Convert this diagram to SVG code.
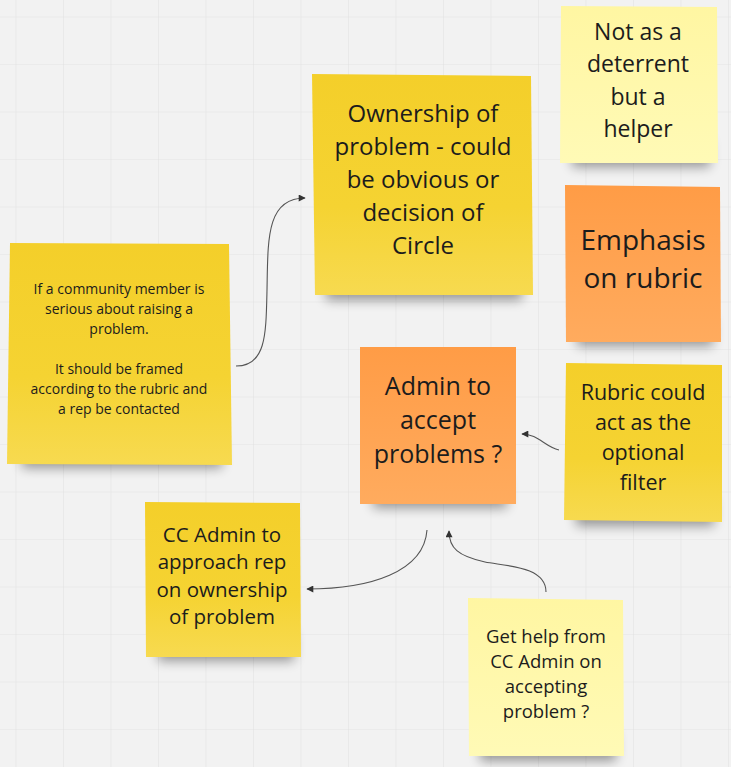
<svg xmlns="http://www.w3.org/2000/svg" width="731" height="767" viewBox="0 0 731 767">
<defs>
<pattern id="grid" x="15.5" y="16.5" width="47.5" height="47.5" patternUnits="userSpaceOnUse">
<path d="M0,0 H47.5 M0,0 V47.5" fill="none" stroke="#e3e3e3" stroke-width="1.2"/>
</pattern>
<linearGradient id="gy" x1="0" y1="0" x2="0" y2="1">
<stop offset="0" stop-color="#f4cf2a"/><stop offset="0.6" stop-color="#f5d332"/><stop offset="1" stop-color="#f7da50"/>
</linearGradient>
<linearGradient id="go" x1="0" y1="0" x2="0" y2="1">
<stop offset="0" stop-color="#ff9c46"/><stop offset="1" stop-color="#ffab5e"/>
</linearGradient>
<linearGradient id="gl" x1="0" y1="0" x2="0" y2="1">
<stop offset="0" stop-color="#fff6a2"/><stop offset="1" stop-color="#fffab6"/>
</linearGradient>
<filter id="blur" x="-20%" y="-50%" width="140%" height="200%">
<feGaussianBlur stdDeviation="6"/>
</filter>
<marker id="arr" viewBox="0 0 10 10" refX="9" refY="5" markerWidth="8" markerHeight="7" markerUnits="userSpaceOnUse" orient="auto">
<path d="M0,0 L10,5 L0,10 z" fill="#333"/>
</marker>
</defs>
<style>
.t{font-family:"Open Sans","DejaVu Sans",sans-serif;fill:#1c1c1c;text-anchor:middle}
.sh{fill:#000;opacity:0.38;filter:url(#blur)}
.y{fill:url(#gy)}
.o{fill:url(#go)}
.l{fill:url(#gl)}
.c{fill:none;stroke:#555;stroke-width:1.1;marker-end:url(#arr)}
</style>
<rect width="731" height="767" fill="#f2f2f2"/>
<rect width="731" height="767" fill="url(#grid)"/>

<g id="connectors">
<path class="c" d="M236,366 C266,366 266,335 267,290 C268,240 266,198 305,198"/>
<path class="c" d="M559,450 C545,447 538,434 522,434"/>
<path class="c" d="M427,530 C424,572 370,589 307,589"/>
<path class="c" d="M546,592 C546,566 505,566 485,562 C458,556 449,548 449,531"/>
</g>

<g id="n-community">
<rect class="sh" x="22" y="440" width="200" height="28"/>
<polygon class="y" points="10,243 229,244 232,465 7,464"/>
<text class="t" font-size="14"><tspan x="119" y="294">If a community member is</tspan><tspan x="119" y="314">serious about raising a</tspan><tspan x="119" y="334">problem.</tspan><tspan x="119" y="374">It should be framed</tspan><tspan x="119" y="394">according to the rubric and</tspan><tspan x="119" y="414">a rep be contacted</tspan></text>
</g>

<g id="n-ownership">
<rect class="sh" x="326" y="270" width="196" height="30"/>
<polygon class="y" points="312,74 531,76 533,295 315,295"/>
<text class="t" font-size="24"><tspan x="423" y="122">Ownership of</tspan><tspan x="423" y="155">problem - could</tspan><tspan x="423" y="188">be obvious or</tspan><tspan x="423" y="221">decision of</tspan><tspan x="423" y="254">Circle</tspan></text>
</g>

<g id="n-deterrent">
<rect class="sh" x="572" y="140" width="138" height="27"/>
<polygon class="l" points="561,6 717,7 718,163 560,163"/>
<text class="t" font-size="23"><tspan x="638" y="40">Not as a</tspan><tspan x="638" y="72">deterrent</tspan><tspan x="638" y="105">but a</tspan><tspan x="638" y="137">helper</tspan></text>
</g>

<g id="n-emphasis">
<rect class="sh" x="577" y="318" width="136" height="28"/>
<polygon class="o" points="565,185 720,187 721,342 566,342"/>
<text class="t" font-size="28"><tspan x="643" y="250">Emphasis</tspan><tspan x="643" y="288">on rubric</tspan></text>
</g>

<g id="n-admin">
<rect class="sh" x="373" y="478" width="134" height="30"/>
<rect class="o" x="360" y="347" width="156" height="157"/>
<text class="t" font-size="25"><tspan x="438" y="395">Admin to</tspan><tspan x="438" y="429">accept</tspan><tspan x="438" y="463">problems ?</tspan></text>
</g>

<g id="n-rubric">
<rect class="sh" x="576" y="497" width="138" height="29"/>
<polygon class="y" points="566,363 722,365 722,522 564,520"/>
<text class="t" font-size="21.5"><tspan x="643" y="400">Rubric could</tspan><tspan x="643" y="430">act as the</tspan><tspan x="643" y="460">optional</tspan><tspan x="643" y="490">filter</tspan></text>
</g>

<g id="n-ccadmin">
<rect class="sh" x="158" y="632" width="136" height="29"/>
<polygon class="y" points="145,502 300,503 301,657 146,657"/>
<text class="t" font-size="20.5"><tspan x="222" y="542">CC Admin to</tspan><tspan x="222" y="569">approach rep</tspan><tspan x="222" y="597">on ownership</tspan><tspan x="222" y="624">of problem</tspan></text>
</g>

<g id="n-gethelp">
<rect class="sh" x="480" y="732" width="136" height="29"/>
<polygon class="l" points="468,598 623,600 624,756 469,756"/>
<text class="t" font-size="18.5"><tspan x="546" y="643">Get help from</tspan><tspan x="546" y="668">CC Admin on</tspan><tspan x="546" y="693">accepting</tspan><tspan x="546" y="718">problem ?</tspan></text>
</g>
</svg>
